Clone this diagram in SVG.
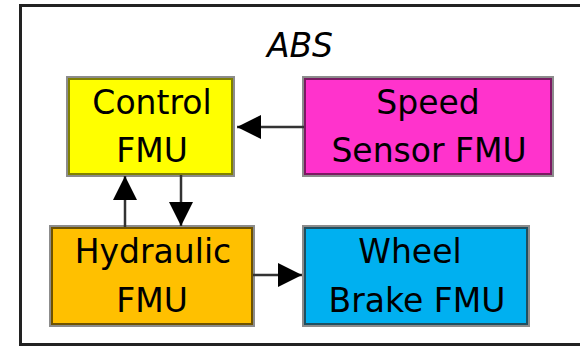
<svg xmlns="http://www.w3.org/2000/svg" width="580" height="346" viewBox="0 0 580 346">
  <style>
    .lbl { font-family: "DejaVu Sans", sans-serif; font-size: 33px; fill: #000; text-anchor: middle; }
    .title { font-family: "DejaVu Sans", sans-serif; font-size: 33px; font-style: italic; fill: #000; text-anchor: middle; }
    .shadow { fill: none; stroke: #8c8c8c; stroke-width: 4; }
    .conn { fill: none; stroke: #333; stroke-width: 2.5; }
  </style>
  <defs>
    <marker id="arrow" markerUnits="userSpaceOnUse" markerWidth="24" markerHeight="24" viewBox="0 0 24 24" refX="24" refY="12" orient="auto">
      <path d="M0,0 L24,12 L0,24 z" fill="#000"/>
    </marker>
  </defs>
  <rect x="0" y="0" width="580" height="346" fill="#fff"/>
  <rect id="frame" x="20.5" y="5.5" width="600" height="339" fill="none" stroke="#222" stroke-width="3"/>
  <g id="abs-title">
    <text class="title" x="300" y="57">ABS</text>
  </g>
  <g id="control">
    <rect class="shadow" x="68" y="78" width="165" height="97"/>
    <rect x="69" y="79" width="163" height="95" fill="#ffff00" stroke="#808000" stroke-width="2"/>
    <text class="lbl" x="152" y="114">Control</text>
    <text class="lbl" x="152" y="162">FMU</text>
  </g>
  <g id="speed">
    <rect class="shadow" x="304" y="78" width="248" height="97"/>
    <rect x="305" y="79" width="246" height="95" fill="#ff33cc" stroke="#7a1a62" stroke-width="2"/>
    <text class="lbl" x="428" y="114">Speed</text>
    <text class="lbl" x="429" y="162">Sensor FMU</text>
  </g>
  <g id="hydraulic">
    <rect class="shadow" x="51" y="227" width="202" height="98"/>
    <rect x="52" y="228" width="200" height="96" fill="#ffc000" stroke="#6e5200" stroke-width="2"/>
    <text class="lbl" x="153" y="263">Hydraulic</text>
    <text class="lbl" x="152" y="312">FMU</text>
  </g>
  <g id="wheel">
    <rect class="shadow" x="304" y="227" width="224" height="98"/>
    <rect x="305" y="228" width="222" height="96" fill="#00b0f0" stroke="#1f4f60" stroke-width="2"/>
    <text class="lbl" x="410" y="263">Wheel</text>
    <text class="lbl" x="417" y="312">Brake FMU</text>
  </g>
  <g id="connectors">
    <path class="conn" d="M304,127 L237,127" marker-end="url(#arrow)"/>
    <path class="conn" d="M253,275 L302,275" marker-end="url(#arrow)"/>
    <path class="conn" d="M125,227 L125,176" marker-end="url(#arrow)"/>
    <path class="conn" d="M181,175 L181,226" marker-end="url(#arrow)"/>
  </g>
</svg>
